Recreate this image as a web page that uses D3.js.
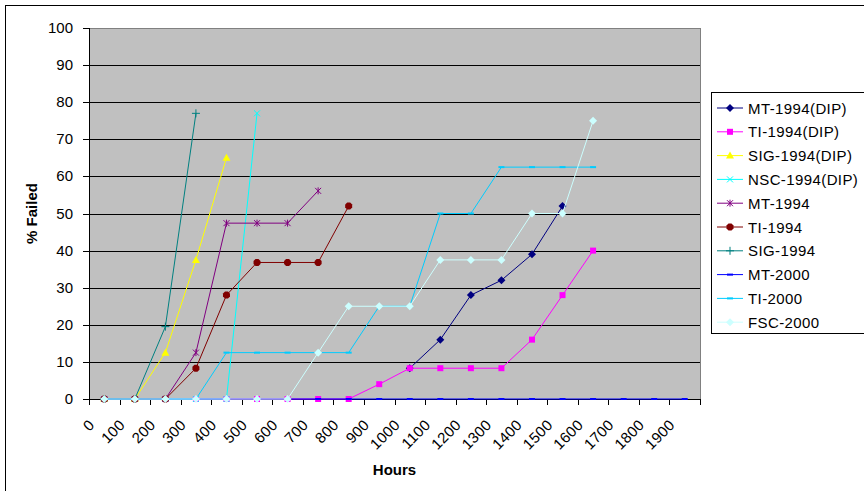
<!DOCTYPE html>
<html>
<head>
<meta charset="utf-8">
<script src="https://cdn.jsdelivr.net/npm/d3@7"></script>
<style>
  body { margin: 0; background: #fff; }
  svg text { font-family: "Liberation Sans", Arial, sans-serif; }
</style>
</head>
<body>
<svg id="chart" width="864" height="491"></svg>
<script>
// categories on the x axis (hours)
var categories = ["0","100","200","300","400","500","600","700","800","900",
  "1000","1100","1200","1300","1400","1500","1600","1700","1800","1900"];
var yTicks = [0,10,20,30,40,50,60,70,80,90,100];

var seriesNames = ["MT-1994(DIP)","TI-1994(DIP)","SIG-1994(DIP)","NSC-1994(DIP)","MT-1994",
  "TI-1994","SIG-1994","MT-2000","TI-2000","FSC-2000"];

var mt1994dip  = [null,null,null,null,null,null,null,null,null,null,8.3,16,28,32,39,52,null,null,null,null];
var ti1994dip  = [0,0,0,0,0,0,0,0,0,4,8.3,8.3,8.3,8.3,16,28,40,null,null,null];
var sig1994dip = [0,0,12.5,37.5,65,null,null,null,null,null,null,null,null,null,null,null,null,null,null,null];
var nsc1994dip = [0,0,0,0,0,77,null,null,null,null,null,null,null,null,null,null,null,null,null,null];
var mt1994     = [0,0,0,12.5,47.4,47.4,47.4,56.1,null,null,null,null,null,null,null,null,null,null,null,null];
var ti1994     = [0,0,0,8.3,28,36.8,36.8,36.8,52,null,null,null,null,null,null,null,null,null,null,null];
var sig1994    = [0,0,19.5,77,null,null,null,null,null,null,null,null,null,null,null,null,null,null,null,null];
var mt2000     = [0,0,0,0,0,0,0,0,0,0,0,0,0,0,0,0,0,0,0,0];
var ti2000     = [0,0,0,0,12.5,12.5,12.5,12.5,12.5,25,25,50,50,62.5,62.5,62.5,62.5,null,null,null];
var fsc2000    = [0,0,0,0,0,0,0,12.5,25,25,25,37.5,37.5,37.5,50,50,75,null,null,null];

var seriesValues = [mt1994dip, ti1994dip, sig1994dip, nsc1994dip, mt1994, ti1994, sig1994, mt2000, ti2000, fsc2000];
var colors = ["#000080","#FF00FF","#FFFF00","#00FFFF","#800080","#800000","#008080","#0000FF","#00CCFF","#CCFFFF"];
var markers = ["diamond","square","triangle","x","star","circle","plus","dash","dash","diamond"];

var svg = d3.select("#chart");
var pLeft = 89, pRight = 700, pTop = 28, pBottom = 399;

var x = d3.scaleBand().domain(categories).range([pLeft, pRight]);
var y = d3.scaleLinear().domain([0, 100]).range([pBottom, pTop]);

// outer chart border (only top/left fall inside the picture)
svg.append("rect").attr("x", 5.5).attr("y", 5.5).attr("width", 900).attr("height", 600)
  .attr("fill", "#fff").attr("stroke", "#000");

// plot area
svg.append("rect").attr("x", pLeft + 0.5).attr("y", pTop + 0.5)
  .attr("width", pRight - pLeft).attr("height", pBottom - pTop)
  .attr("fill", "#C0C0C0").attr("stroke", "#808080");

// gridlines
svg.append("g").selectAll("line")
  .data(yTicks.filter(function(d){ return d > 0 && d < 100; }))
  .enter().append("line")
  .attr("x1", pLeft).attr("x2", pRight)
  .attr("y1", function(d){ return Math.round(y(d)) + 0.5; })
  .attr("y2", function(d){ return Math.round(y(d)) + 0.5; })
  .attr("stroke", "#000").attr("shape-rendering", "crispEdges");

// y axis
var yAxis = svg.append("g");
yAxis.append("line").attr("x1", pLeft + 0.5).attr("x2", pLeft + 0.5)
  .attr("y1", pTop).attr("y2", pBottom + 1).attr("stroke", "#000");
yAxis.selectAll(".tick").data(yTicks).enter().append("line")
  .attr("x1", pLeft - 6).attr("x2", pLeft)
  .attr("y1", function(d){ return Math.round(y(d)) + 0.5; })
  .attr("y2", function(d){ return Math.round(y(d)) + 0.5; })
  .attr("stroke", "#000");
yAxis.selectAll("text").data(yTicks).enter().append("text")
  .attr("x", pLeft - 16).attr("y", function(d){ return y(d) + 5; })
  .attr("text-anchor", "end").attr("font-size", "15px")
  .text(function(d){ return d; });

// x axis
var xAxis = svg.append("g");
xAxis.append("line").attr("x1", pLeft).attr("x2", pRight + 1)
  .attr("y1", pBottom + 0.5).attr("y2", pBottom + 0.5).attr("stroke", "#000");
var edges = categories.map(function(c){ return x(c); }).concat([pRight]);
xAxis.selectAll(".tick").data(edges).enter().append("line")
  .attr("x1", function(d){ return Math.round(d) + 0.5; })
  .attr("x2", function(d){ return Math.round(d) + 0.5; })
  .attr("y1", pBottom).attr("y2", pBottom + 6)
  .attr("stroke", "#000");
xAxis.selectAll("text").data(categories).enter().append("text")
  .attr("transform", function(d){
    var cx = x(d) + x.bandwidth() / 2 - 9;
    return "translate(" + cx + "," + (pBottom + 27) + ") rotate(-45)";
  })
  .attr("text-anchor", "end").attr("font-size", "15px").attr("letter-spacing", "0.3px")
  .text(function(d){ return d; });

// axis titles
svg.append("text").attr("x", (pLeft + pRight) / 2).attr("y", 475)
  .attr("text-anchor", "middle").attr("font-size", "15px").attr("font-weight", "bold")
  .text("Hours");
svg.append("text").attr("transform", "translate(37," + ((pTop + pBottom) / 2) + ") rotate(-90)")
  .attr("text-anchor", "middle").attr("font-size", "15px").attr("font-weight", "bold")
  .text("% Failed");

function markerPath(type) {
  switch (type) {
    case "diamond": return "M0,-4L4,0L0,4L-4,0Z";
    case "square": return "M-3,-3H3V3H-3Z";
    case "triangle": return "M0,-4L4,3H-4Z";
    case "x": return "M-3,-3L3,3M-3,3L3,-3";
    case "star": return "M-3,-3L3,3M-3,3L3,-3M0,-3.5V3.5";
    case "circle": return "M-1.5,-3.5H1.5L3.5,-1.5V1.5L1.5,3.5H-1.5L-3.5,1.5V-1.5Z";
    case "plus": return "M-4,0H4M0,-4V4";
    case "dash": return "M-3,-1H3V1H-3Z";
  }
}
function isStroked(type) { return type === "x" || type === "star" || type === "plus"; }

var line = d3.line()
  .defined(function(d){ return d.v !== null; })
  .x(function(d){ return x(d.c) + x.bandwidth() / 2; })
  .y(function(d){ return y(d.v); });

seriesValues.forEach(function(vals, i) {
  var pts = categories.map(function(c, j){ return { c: c, v: vals[j] }; });
  var g = svg.append("g");
  g.append("path").attr("d", line(pts))
    .attr("fill", "none").attr("stroke", colors[i]).attr("stroke-width", 1);
  g.selectAll("path.m").data(pts.filter(function(d){ return d.v !== null; }))
    .enter().append("path").attr("class", "m")
    .attr("transform", function(d){ return "translate(" + (x(d.c) + x.bandwidth() / 2) + "," + y(d.v) + ")"; })
    .attr("d", markerPath(markers[i]))
    .attr("fill", isStroked(markers[i]) ? "none" : colors[i])
    .attr("stroke", colors[i]).attr("stroke-width", isStroked(markers[i]) ? 1 : 0);
});

// legend
var legend = svg.append("g");
legend.append("rect").attr("x", 711.5).attr("y", 92.5).attr("width", 200).attr("height", 241)
  .attr("fill", "#fff").attr("stroke", "#000");
seriesNames.forEach(function(name, i) {
  var ly = 108 + i * 23.8;
  var item = legend.append("g");
  item.append("line").attr("x1", 717).attr("x2", 743).attr("y1", ly).attr("y2", ly)
    .attr("stroke", colors[i]);
  item.append("path").attr("transform", "translate(730," + ly + ")")
    .attr("d", markerPath(markers[i]))
    .attr("fill", isStroked(markers[i]) ? "none" : colors[i])
    .attr("stroke", colors[i]).attr("stroke-width", isStroked(markers[i]) ? 1 : 0);
  item.append("text").attr("x", 748).attr("y", ly + 5.5)
    .attr("font-size", "15px").attr("letter-spacing", "0.4px").text(name);
});
</script>
</body>
</html>
